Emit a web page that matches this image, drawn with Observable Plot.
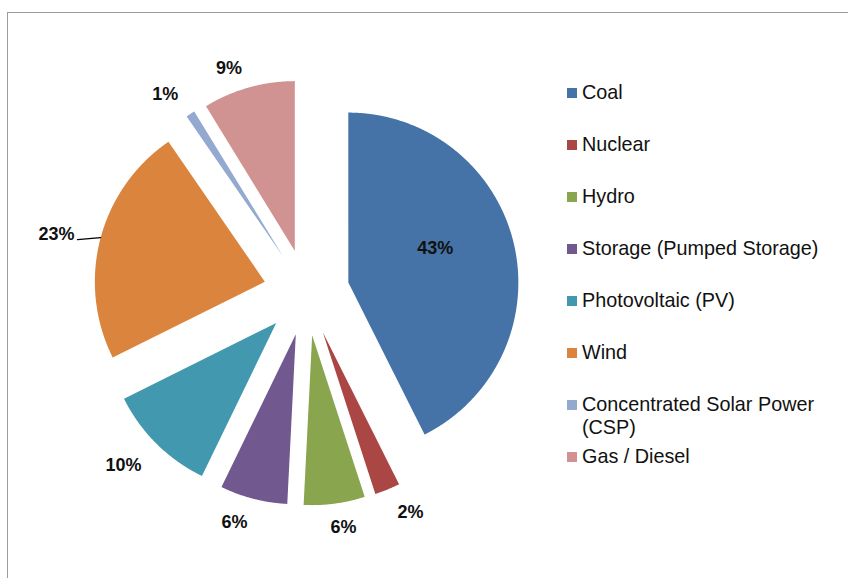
<!DOCTYPE html>
<html>
<head>
<meta charset="utf-8">
<script src="https://cdn.jsdelivr.net/npm/d3@7"></script>
<script src="https://cdn.jsdelivr.net/npm/@observablehq/plot@0.6"></script>
<style>
  html, body { margin: 0; padding: 0; background: #fff; }
  #wrap { position: relative; width: 848px; height: 578px; overflow: hidden;
          font-family: "Liberation Sans", Arial, sans-serif; }
  #frame { position: absolute; left: 7px; top: 12px; width: 900px; height: 700px;
           border-top: 1.5px solid #9c9c9c; border-left: 1.5px solid #9c9c9c; box-sizing: border-box; }
  #chart { position: absolute; left: 0; top: 0; }
  #legend { position: absolute; left: 0; top: 0; }
  .item { position: absolute; left: 567px; display: flex; align-items: flex-start; }
  .sw { width: 10px; height: 10px; margin-top: 7px; margin-right: 5px; flex: none; }
  .lab { font-size: 19.8px; line-height: 23px; color: #111; width: 250px; }
</style>
</head>
<body>
<div id="wrap">
  <div id="frame"></div>
  <div id="chart"></div>
  <div id="legend"></div>
</div>
<script>
// ---- data ----
const categories = ["Coal", "Nuclear", "Hydro", "Storage (Pumped Storage)", "Photovoltaic (PV)",
                    "Wind", "Concentrated Solar Power (CSP)", "Gas / Diesel"];
const shares = [42.6, 2.4, 5.8, 6.4, 10.45, 22.75, 0.85, 8.75];
const colors = ["#4572A7", "#AA4643", "#89A54E", "#71588F", "#4198AF", "#DB843D", "#93A9CF", "#D19392"];

// ---- layout ----
const W = 848, H = 578;
const CX = 306, CY = 292, R = 170;          // pie centre and radius in pixels
const explode = 43 / R;                      // explosion distance, in radius units
const labelRadius = [0.80, 1.43, 1.40, 1.415, 1.48, 1.51, 1.43, 1.395]; // from pie centre
const labelNudge = [-5.6, -3.0, -1.4, 3.0, 1.9, -1.4, -2.5, -3.35];     // degrees from bisector
const leaderSlice = 5; // Wind label has a leader line

const deg = Math.PI / 180;
const arcs = d3.pie().sort(null).value(d => d)(shares);
const pt = (a, r) => [r * Math.sin(a), r * Math.cos(a)];

// slice polygons
const slicePts = [];
arcs.forEach((a, i) => {
  const mid = (a.startAngle + a.endAngle) / 2;
  const [ox, oy] = pt(mid, explode);
  slicePts.push({name: categories[i], x: ox, y: oy, k: 0});
  const n = Math.max(2, Math.ceil((a.endAngle - a.startAngle) / (0.25 * deg)));
  for (let j = 0; j <= n; j++) {
    const ang = a.startAngle + (a.endAngle - a.startAngle) * j / n;
    const [px, py] = pt(ang, 1);
    slicePts.push({name: categories[i], x: ox + px, y: oy + py, k: j + 1});
  }
});

// percentage labels
const labels = arcs.map((a, i) => {
  const mid = (a.startAngle + a.endAngle) / 2 + labelNudge[i] * deg;
  const [x, y] = pt(mid, labelRadius[i]);
  return {x, y, text: Math.round(shares[i]) + "%"};
});

// leader line for the Wind label
const wa = arcs[leaderSlice];
const wmid = (wa.startAngle + wa.endAngle) / 2;
const [wox, woy] = pt(wmid, explode);
const l1 = pt(wmid - 1.8 * deg, 1.13), l2 = pt(wmid + 0.56 * deg, 1.0);
const leader = [
  {x: wox + l1[0], y: woy + l1[1]},
  {x: wox + l2[0], y: woy + l2[1]}
];

const chart = Plot.plot({
  width: W, height: H,
  margin: 0,
  x: {domain: [-CX / R, (W - CX) / R], range: [0, W], axis: null},
  y: {domain: [-(H - CY) / R, CY / R], range: [H, 0], axis: null},
  color: {domain: categories, range: colors},
  style: {background: "transparent", overflow: "visible"},
  marks: [
    Plot.line(slicePts, {x: "x", y: "y", z: "name", fill: "name", stroke: "none", curve: "linear-closed"}),
    Plot.line(leader, {x: "x", y: "y", stroke: "#000", strokeWidth: 1.2}),
    Plot.text(labels, {x: "x", y: "y", text: "text", fontSize: 18, fontWeight: "bold",
                       fill: "#111", fontFamily: "Liberation Sans, Arial, sans-serif"})
  ]
});
document.getElementById("chart").appendChild(chart);

// legend
const legend = document.getElementById("legend");
categories.forEach((c, i) => {
  const item = document.createElement("div");
  item.className = "item";
  item.style.top = (92 + 52 * i - 11.5) + "px";
  const sw = document.createElement("div");
  sw.className = "sw";
  sw.style.background = colors[i];
  const lab = document.createElement("div");
  lab.className = "lab";
  lab.textContent = c;
  item.appendChild(sw);
  item.appendChild(lab);
  legend.appendChild(item);
});
</script>
</body>
</html>
